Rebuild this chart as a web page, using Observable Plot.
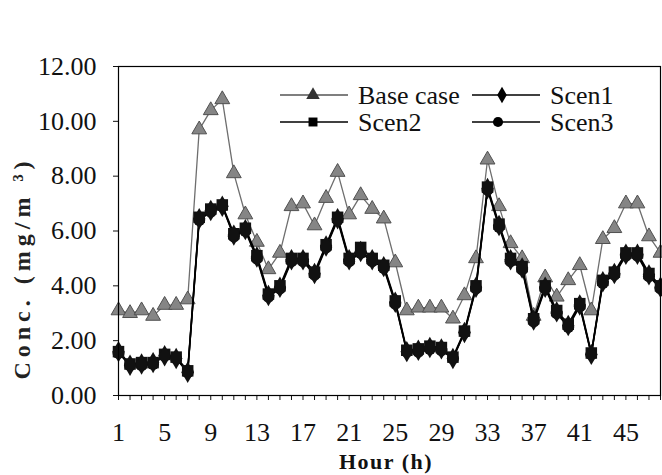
<!DOCTYPE html>
<html><head><meta charset="utf-8">
<script src="https://cdn.jsdelivr.net/npm/d3@7"></script>
<script src="https://cdn.jsdelivr.net/npm/@observablehq/plot@0.6"></script>
<style>
body{margin:0;background:#fff}
#wrap{position:relative;width:662px;height:475px;overflow:hidden;background:#fff}
#wrap svg{position:absolute;left:0;top:0}
</style></head><body><div id="wrap"></div>
<script>
const hours = d3.range(1, 49);
const baseCase = [3.1,3.0,3.1,2.9,3.3,3.3,3.5,9.7,10.4,10.8,8.1,6.6,5.6,4.6,5.2,6.9,7.0,6.2,7.2,8.15,6.6,7.3,6.8,6.45,4.85,3.1,3.2,3.2,3.2,2.8,3.65,5.0,8.6,6.9,5.55,5.0,2.9,4.3,3.6,4.2,4.75,3.1,5.7,6.1,7.0,7.0,5.8,5.2];
const scen1 = [1.6,1.1,1.15,1.2,1.45,1.35,0.85,6.45,6.75,6.9,5.85,6.05,5.05,3.65,3.95,4.95,4.95,4.45,5.45,6.45,4.95,5.25,4.95,4.7,3.4,1.6,1.65,1.75,1.7,1.35,2.3,3.95,7.55,6.2,4.95,4.65,2.75,3.95,3.05,2.55,3.3,1.5,4.15,4.45,5.15,5.15,4.4,3.95];
const scen2 = [1.6,1.15,1.2,1.2,1.5,1.4,0.9,6.5,6.8,6.95,5.9,6.1,5.1,3.7,4.0,5.0,5.0,4.5,5.5,6.5,5.0,5.4,5.0,4.75,3.45,1.65,1.7,1.8,1.75,1.4,2.35,4.0,7.6,6.25,5.0,4.7,2.8,4.0,3.1,2.6,3.35,1.55,4.2,4.5,5.2,5.2,4.45,4.0];
const scen3 = [1.55,1.1,1.1,1.15,1.45,1.35,0.85,6.4,6.7,6.9,5.8,6.0,5.0,3.6,3.9,4.9,4.9,4.4,5.4,6.4,4.9,5.2,4.9,4.65,3.35,1.6,1.6,1.7,1.65,1.35,2.3,3.9,7.5,6.15,4.9,4.6,2.7,3.9,3.0,2.5,3.25,1.5,4.1,4.4,5.1,5.1,4.35,3.9];
const yTicks = [0, 2, 4, 6, 8, 10, 12];
const xTickLabels = [1, 5, 9, 13, 17, 21, 25, 29, 33, 37, 41, 45];
const seriesNames = ["Base case", "Scen1", "Scen2", "Scen3"];
const xTitle = "Hour (h)";
const yTitle = "Conc. (mg/m \u00B3)";

const rows = vals => hours.map((h, i) => ({hour: h, value: vals[i]}));
const W = 662, H = 475;
const FONT = "'Liberation Serif','Times New Roman',serif";

const chart = Plot.plot({
  width: W, height: H,
  marginLeft: 118, marginRight: 2, marginTop: 66, marginBottom: 80,
  style: {fontFamily: FONT, fontSize: "26px", color: "#111", background: "transparent", overflow: "visible"},
  x: {domain: [1, 48]},
  y: {domain: [0, 12]},
  marks: [
    Plot.axisY({ticks: yTicks, tickFormat: d3.format(".2f"), tickSize: 5, tickPadding: 17, label: null}),
    Plot.axisX({ticks: hours, tickFormat: () => "", tickSize: 5, label: null}),
    Plot.axisX({ticks: xTickLabels, tickSize: 0, tickPadding: 27, label: null}),
    Plot.line(rows(baseCase), {x: "hour", y: "value", stroke: "#6e6e6e", strokeWidth: 1.3}),
    Plot.dot(rows(baseCase), {x: "hour", y: "value", symbol: "triangle", r: 5.5, fill: "#858585", stroke: "#505050", strokeWidth: 1}),
    Plot.line(rows(scen3), {x: "hour", y: "value", stroke: "#000", strokeWidth: 1.6}),
    Plot.line(rows(scen2), {x: "hour", y: "value", stroke: "#000", strokeWidth: 1.6}),
    Plot.line(rows(scen1), {x: "hour", y: "value", stroke: "#000", strokeWidth: 1.6}),
    Plot.dot(rows(scen3), {x: "hour", y: "value", symbol: "circle", r: 6, fill: "#111"}),
    Plot.dot(rows(scen2), {x: "hour", y: "value", symbol: "square", r: 6.5, fill: "#111"}),
    Plot.dot(rows(scen1), {x: "hour", y: "value", symbol: "diamond", r: 6.5, fill: "#111"}),
    Plot.frame({stroke: "#000", strokeWidth: 1.2})
  ]
});
const wrap = document.getElementById("wrap");
wrap.appendChild(chart);

// overlay: legend and titles
const ov = d3.select(wrap).append("svg").attr("width", W).attr("height", H)
  .style("font-family", FONT).style("pointer-events", "none");

const legendItems = [
  {name: seriesNames[0], sym: d3.symbolTriangle, lx: 280, ly: 95, col: "#555", mx: 313},
  {name: seriesNames[1], sym: d3.symbolDiamond, lx: 472, ly: 95, col: "#000", mx: 502},
  {name: seriesNames[2], sym: d3.symbolSquare, lx: 280, ly: 122, col: "#000", mx: 313},
  {name: seriesNames[3], sym: d3.symbolCircle, lx: 472, ly: 122, col: "#000", mx: 498}
];
for (const it of legendItems) {
  ov.append("line").attr("x1", it.lx).attr("x2", it.lx + 68).attr("y1", it.ly).attr("y2", it.ly)
    .attr("stroke", it.col).attr("stroke-width", 1.5);
  ov.append("path").attr("d", d3.symbol(it.sym, 80)()).attr("transform", `translate(${it.mx},${it.ly})`)
    .attr("fill", it.name === "Base case" ? "#333" : "#000");
  ov.append("text").attr("x", it.lx + 78).attr("y", it.ly + 9).attr("font-size", 26).attr("fill", "#111").text(it.name);
}
ov.append("text").attr("x", 386).attr("y", 469).attr("text-anchor", "middle")
  .attr("font-size", 22).attr("font-weight", "bold").attr("letter-spacing", 1.5).attr("fill", "#111").text(xTitle);
ov.append("text").attr("transform", "translate(30,268) rotate(-90)").attr("text-anchor", "middle")
  .attr("font-size", 24).attr("font-weight", "bold").attr("letter-spacing", 5).attr("fill", "#222").text(yTitle);
</script></body></html>
